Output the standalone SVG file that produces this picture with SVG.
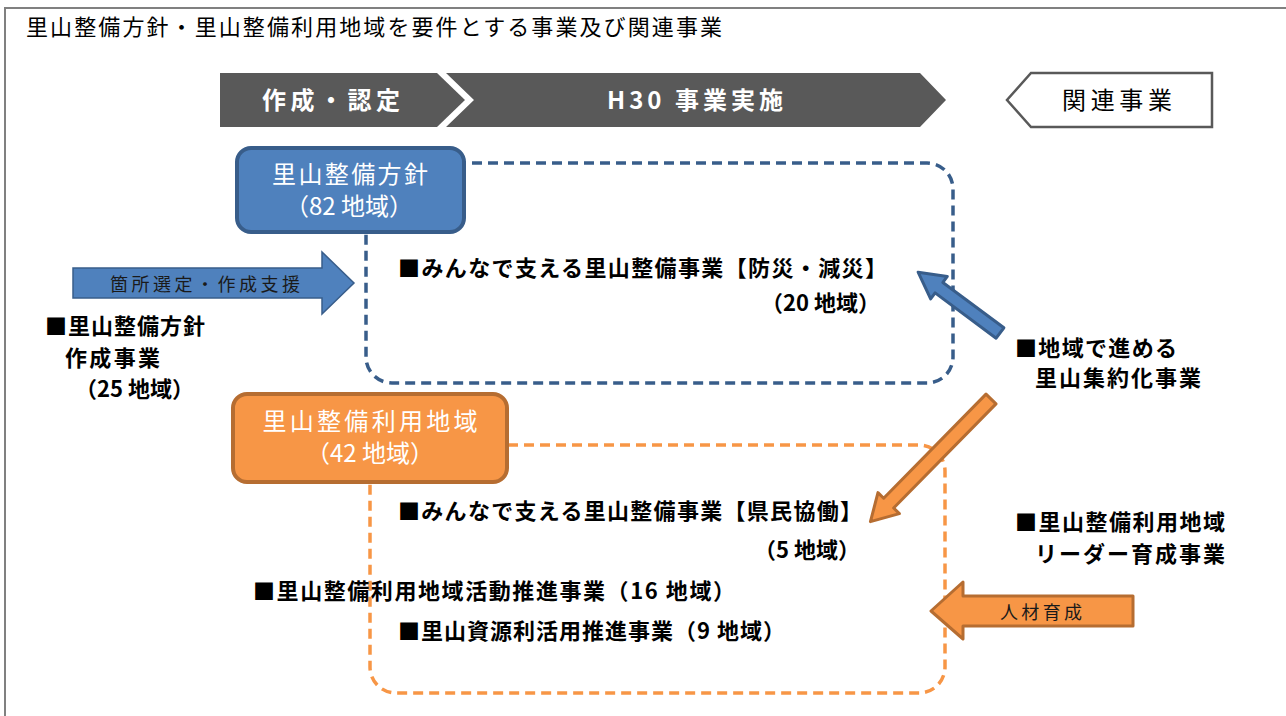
<svg xmlns="http://www.w3.org/2000/svg" width="1286" height="716" viewBox="0 0 1286 716">
<style>
text{font-family:"Noto Sans CJK JP","Noto Sans",sans-serif;}
.b{font-weight:bold;font-size:22px;fill:#000;}
.wt{fill:#fff;font-size:24px;text-anchor:middle;}
.cv{fill:#fff;font-size:24px;font-weight:bold;text-anchor:middle;}
.at{font-size:18px;fill:#1a1a1a;text-anchor:middle;}
.bluefill{fill:#4F81BD;stroke:#385D8A;}
.orfill{fill:#F79646;stroke:#B66D31;}
.dash{fill:none;stroke-width:3.5;stroke-dasharray:10 6;}
</style>
<rect width="1286" height="716" fill="#fff"/>
<rect x="5" y="8" width="1290" height="730" fill="none" stroke="#808080" stroke-width="2"/>
<text x="26" y="35" font-size="22" fill="#000" textLength="696">里山整備方針・里山整備利用地域を要件とする事業及び関連事業</text>

<g id="header">
  <polygon points="220,73 437,73 465,100 437,127 220,127" fill="#595959"/>
  <polygon points="446,73 920,73 946,100 920,127 446,127 474,100" fill="#595959"/>
  <text class="cv" x="331" y="109" textLength="138">作成・認定</text>
  <text class="cv" x="695" y="109" font-size="25" textLength="176">H30 事業実施</text>
</g>
<g id="related">
  <polygon points="1031,73 1212,73 1212,127 1031,127 1007,100" fill="#fff" stroke="#595959" stroke-width="2.5"/>
  <text x="1117" y="109" font-size="24" text-anchor="middle" fill="#000" textLength="110">関連事業</text>
</g>

<g id="dashed-frames">
  <rect class="dash" x="366" y="163" width="587" height="220" rx="26" stroke="#385D8A"/>
  <rect class="dash" x="370" y="445" width="575" height="248" rx="26" stroke="#F79646"/>
</g>

<g id="node-hoshin">
  <rect x="237" y="148" width="227" height="84" rx="14" class="bluefill" stroke-width="4"/>
  <text class="wt" x="350" y="183" textLength="156">里山整備方針</text>
  <text class="wt" x="349" y="215">（82 地域）</text>
</g>

<g id="node-riyou">
  <rect x="233" y="394" width="274" height="88" rx="14" class="orfill" stroke-width="4"/>
  <text class="wt" x="370" y="430" textLength="215">里山整備利用地域</text>
  <text class="wt" x="370" y="462">（42 地域）</text>
</g>

<g id="connectors">
  <path d="M73,268 L322,268 L322,252 L354,283 L322,314 L322,298 L73,298 Z" class="bluefill" stroke-width="1.5"/>
  <text class="at" x="205" y="291" textLength="190">箇所選定・作成支援</text>
  <path d="M0,-6.5 L76,-6.5 L76,-14 L102,0 L76,14 L76,6.5 L0,6.5 Z" transform="translate(1000,333) rotate(216.6)" class="bluefill" stroke-width="3" stroke-linejoin="round"/>
  <path d="M0,-7 L146,-7 L146,-15 L172,0 L146,15 L146,7 L0,7 Z" transform="translate(991,399) rotate(134.5)" class="orfill" stroke-width="3" stroke-linejoin="round"/>
  <path d="M1133,596 L963,596 L963,582 L931,611 L963,639 L963,626 L1133,626 Z" class="orfill" stroke-width="3" stroke-linejoin="round"/>
  <text class="at" x="1041" y="619" textLength="82">人材育成</text>
</g>

<g id="text-hoshin-sakusei">
  <text class="b" x="45" y="334" textLength="160">■里山整備方針</text>
  <text class="b" x="65" y="366" textLength="95">作成事業</text>
  <text class="b" x="75" y="397">（25 地域）</text>
</g>
<g id="text-bousai">
  <text class="b" x="398" y="276" textLength="489">■みんなで支える里山整備事業【防災・減災】</text>
  <text class="b" x="880" y="311" text-anchor="end">（20 地域）</text>
</g>
<g id="text-shuyaku">
  <text class="b" x="1015" y="356" textLength="162">■地域で進める</text>
  <text class="b" x="1035" y="386" textLength="166">里山集約化事業</text>
</g>
<g id="text-kyoudou">
  <text class="b" x="398" y="519" textLength="464">■みんなで支える里山整備事業【県民協働】</text>
  <text class="b" x="860" y="558" text-anchor="end">（5 地域）</text>
</g>
<g id="text-katsudou">
  <text class="b" x="253" y="599" textLength="482">■里山整備利用地域活動推進事業（16 地域）</text>
</g>
<g id="text-shigen">
  <text class="b" x="398" y="639" textLength="387">■里山資源利活用推進事業（9 地域）</text>
</g>
<g id="text-leader">
  <text class="b" x="1015" y="530" textLength="210">■里山整備利用地域</text>
  <text class="b" x="1035" y="562" textLength="190">リーダー育成事業</text>
</g>
</svg>
